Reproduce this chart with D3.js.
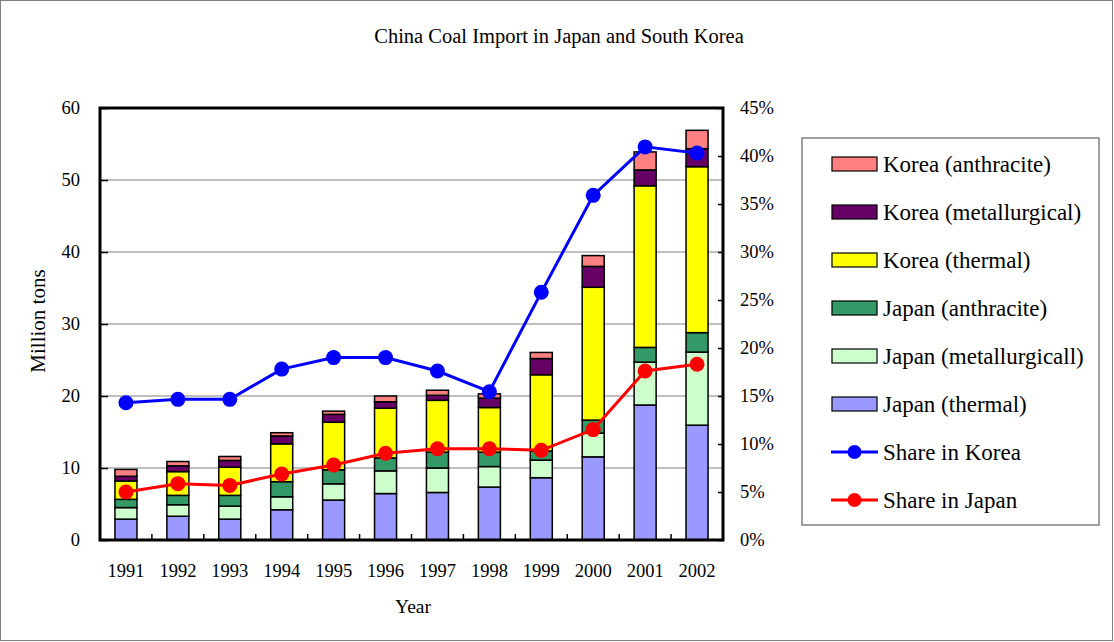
<!DOCTYPE html>
<meta charset="utf-8">
<head>
    <script type="text/javascript" src="https://d3js.org/d3.v7.min.js"></script>
    <style>
        body { margin: 0; background: white; }
        text { font-family: "Liberation Serif", "Times New Roman", serif; fill: black; }
    </style>
    <title>China Coal Import in Japan and South Korea</title>
</head>
<body>
<script>

    var years = ["1991", "1992", "1993", "1994", "1995", "1996", "1997", "1998", "1999", "2000", "2001", "2002"]

    var japanThermal = [2.9, 3.3, 2.9, 4.2, 5.55, 6.45, 6.6, 7.35, 8.65, 11.55, 18.75, 15.95]
    var japanMet = [1.6, 1.6, 1.8, 1.8, 2.25, 3.15, 3.4, 2.85, 2.45, 3.3, 5.95, 10.15]
    var japanAnth = [1.15, 1.3, 1.5, 2.1, 1.95, 1.8, 2.2, 2.0, 1.25, 1.8, 2.05, 2.7]
    var koreaThermal = [2.55, 3.3, 3.9, 5.25, 6.6, 6.9, 7.2, 6.2, 10.6, 18.45, 22.45, 23.05]
    var koreaMet = [0.65, 0.8, 0.95, 1.1, 1.1, 0.9, 0.7, 1.3, 2.25, 2.9, 2.2, 2.5]
    var koreaAnth = [0.95, 0.6, 0.55, 0.45, 0.45, 0.8, 0.7, 0.6, 0.85, 1.5, 2.5, 2.55]

    // percent
    var shareKorea = [14.3, 14.65, 14.65, 17.8, 19.0, 19.0, 17.6, 15.45, 25.8, 35.9, 40.95, 40.3]
    var shareJapan = [5.0, 5.87, 5.69, 6.88, 7.81, 9.03, 9.51, 9.51, 9.34, 11.5, 17.6, 18.3]

    var leftTicks = [0, 10, 20, 30, 40, 50, 60]
    var rightTicks = [0, 5, 10, 15, 20, 25, 30, 35, 40, 45]

    var series = [
        {name: "Japan (thermal)", values: japanThermal, color: "#9999FF"},
        {name: "Japan (metallurgicall)", values: japanMet, color: "#CCFFCC"},
        {name: "Japan (anthracite)", values: japanAnth, color: "#339966"},
        {name: "Korea (thermal)", values: koreaThermal, color: "#FFFF00"},
        {name: "Korea (metallurgical)", values: koreaMet, color: "#660066"},
        {name: "Korea (anthracite)", values: koreaAnth, color: "#FF8080"}
    ]
    var lines = [
        {name: "Share in Korea", values: shareKorea, color: "#0000FF"},
        {name: "Share in Japan", values: shareJapan, color: "#FF0000"}
    ]

    var width = 1114
    var height = 642
    var plot = {left: 100, right: 723, top: 108, bottom: 540}

    var svg = d3.select("body").append("svg")
        .attr("width", width)
        .attr("height", height)

    svg.append("rect")
        .attr("x", 0.5).attr("y", 0.5)
        .attr("width", width - 2).attr("height", height - 2)
        .attr("fill", "white").attr("stroke", "#808080").attr("stroke-width", 1)

    var x = d3.scaleBand().domain(years).range([plot.left, plot.right]).paddingInner(0.576).paddingOuter(0.288)
    var xc = d3.scaleBand().domain(years).range([plot.left, plot.right])
    var y = d3.scaleLinear().domain([0, 60]).range([plot.bottom, plot.top])
    var y2 = d3.scaleLinear().domain([0, 45]).range([plot.bottom, plot.top])

    // title
    svg.append("text")
        .attr("x", 559).attr("y", 43)
        .attr("text-anchor", "middle")
        .style("font-size", "20.5px")
        .text("China Coal Import in Japan and South Korea")

    // gridlines
    svg.append("g").selectAll("line")
        .data(leftTicks.filter(d => d > 0 && d < 60))
        .enter().append("line")
        .attr("x1", plot.left).attr("x2", plot.right)
        .attr("y1", d => y(d)).attr("y2", d => y(d))
        .attr("stroke", "#808080").attr("stroke-width", 1)

    // stacked bars
    var stackData = years.map(function (yr, i) {
        var o = {year: yr}
        series.forEach(s => o[s.name] = s.values[i])
        return o
    })
    var stacked = d3.stack().keys(series.map(s => s.name))(stackData)

    svg.append("g").selectAll("g")
        .data(stacked)
        .enter().append("g")
        .attr("fill", (d, i) => series[i].color)
        .selectAll("rect")
        .data(d => d)
        .enter().append("rect")
        .attr("x", d => x(d.data.year))
        .attr("width", x.bandwidth())
        .attr("y", d => y(d[1]))
        .attr("height", d => y(d[0]) - y(d[1]))
        .attr("stroke", "black")
        .attr("stroke-width", 1.5)

    // axes
    var leftAxis = d3.axisLeft(y).tickValues(leftTicks).tickSize(-8).tickPadding(20)
    var gl = svg.append("g").attr("transform", "translate(" + plot.left + ",0)").call(leftAxis)
    var rightAxis = d3.axisRight(y2).tickValues(rightTicks).tickSize(-5).tickPadding(17).tickFormat(d => d + "%")
    var gr = svg.append("g").attr("transform", "translate(" + plot.right + ",0)").call(rightAxis)
    var bottomAxis = d3.axisBottom(xc).tickSize(0).tickPadding(24)
    var gb = svg.append("g").attr("transform", "translate(0," + plot.bottom + ")").call(bottomAxis)

    ;[gl, gr, gb].forEach(function (g) {
        g.select(".domain").remove()
        g.selectAll("text").style("font-size", "18.5px").attr("font-family", null)
        g.selectAll("line").attr("stroke", "black").attr("stroke-width", 1.5)
    })

    // category ticks on x axis
    svg.append("g").selectAll("line")
        .data(years.slice(1))
        .enter().append("line")
        .attr("x1", d => xc(d)).attr("x2", d => xc(d))
        .attr("y1", plot.bottom).attr("y2", plot.bottom - 6)
        .attr("stroke", "black").attr("stroke-width", 1.5)

    // frame
    svg.append("rect")
        .attr("x", plot.left).attr("y", plot.top)
        .attr("width", plot.right - plot.left).attr("height", plot.bottom - plot.top)
        .attr("fill", "none").attr("stroke", "black").attr("stroke-width", 3)

    // lines
    var line = d3.line()
        .x((d, i) => xc(years[i]) + xc.bandwidth() / 2)
        .y(d => y2(d))

    lines.forEach(function (s) {
        svg.append("path")
            .datum(s.values)
            .attr("d", line)
            .attr("fill", "none")
            .attr("stroke", s.color)
            .attr("stroke-width", 3)
        svg.append("g").selectAll("circle")
            .data(s.values)
            .enter().append("circle")
            .attr("cx", (d, i) => xc(years[i]) + xc.bandwidth() / 2)
            .attr("cy", d => y2(d))
            .attr("r", 7.5)
            .attr("fill", s.color)
    })

    // axis titles
    svg.append("text")
        .attr("transform", "translate(45,321) rotate(-90)")
        .attr("text-anchor", "middle")
        .style("font-size", "21px")
        .text("Million tons")
    svg.append("text")
        .attr("x", 413).attr("y", 613)
        .attr("text-anchor", "middle")
        .style("font-size", "19.5px")
        .text("Year")

    // legend
    var legend = svg.append("g")
    legend.append("rect")
        .attr("x", 802).attr("y", 138)
        .attr("width", 297).attr("height", 387)
        .attr("fill", "white").attr("stroke", "#808080").attr("stroke-width", 1.5)

    var legendItems = series.slice().reverse().map(s => ({name: s.name, color: s.color, type: "bar"}))
        .concat(lines.map(s => ({name: s.name, color: s.color, type: "line"})))

    var items = legend.selectAll("g.item")
        .data(legendItems)
        .enter().append("g")
        .attr("class", "item")
        .attr("transform", (d, i) => "translate(0," + (164 + i * 48) + ")")

    items.filter(d => d.type === "bar").append("rect")
        .attr("x", 832).attr("y", -7)
        .attr("width", 45).attr("height", 14)
        .attr("fill", d => d.color)
        .attr("stroke", "black").attr("stroke-width", 1.2)
    items.filter(d => d.type === "line").append("line")
        .attr("x1", 831).attr("x2", 878)
        .attr("stroke", d => d.color).attr("stroke-width", 3)
    items.filter(d => d.type === "line").append("circle")
        .attr("cx", 854.5).attr("r", 7)
        .attr("fill", d => d.color)
    items.append("text")
        .attr("x", 883).attr("y", 8)
        .style("font-size", "23px")
        .text(d => d.name)

</script>
</body>
</html>
